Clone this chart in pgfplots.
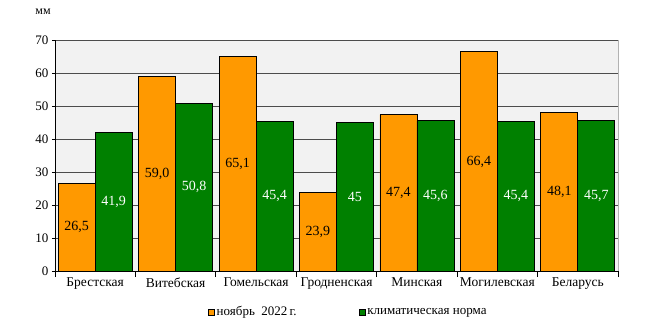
\documentclass[border=0pt]{standalone}
\usepackage{fontspec}
\setmainfont{Liberation Serif}
\usepackage{pgfplots}
\pgfplotsset{compat=1.18}
\definecolor{orng}{RGB}{255,153,0}
\definecolor{grn}{RGB}{0,128,0}
\definecolor{bgc}{RGB}{242,242,242}
\begin{document}
\begin{tikzpicture}
\path[use as bounding box] (-55pt,-56pt) rectangle (594pt,271pt);
\begin{axis}[
  at={(0,0)}, anchor=south west,
  scale only axis, width=563pt, height=231pt,
  xmin=-0.5, xmax=6.5, ymin=0, ymax=70,
  ytick={0,10,...,70},
  xtick={0,...,6},
  xticklabels={Брестская,Витебская,Гомельская,Гродненская,Минская,Могилевская,Беларусь},
  minor xtick={-0.5,0.5,...,6.5},
  axis x line*=bottom, axis y line*=left,
  axis line style={-, black, line width=0.8pt},
  tick align=outside,
  major x tick style={draw=none},
  minor x tick style={black, line width=0.8pt},
  ytick style={black, line width=0.8pt},
  major tick length=3pt, minor tick length=6pt,
  ymajorgrids,
  major y grid style={gray!60!black, line width=0.7pt},
  axis background/.style={fill=bgc, draw=gray!60, line width=0.8pt},
  /pgf/number format/assume math mode=true,
  yticklabel style={font=\fontsize{13}{14}\selectfont},
  xticklabel style={font=\fontsize{13.5}{14}\selectfont},
  legend style={at={(0.521,-0.1775)}, anchor=center, draw=none, fill=none,
    font=\fontsize{13}{14}\selectfont, legend columns=2,
    /tikz/every even column/.append style={column sep=60pt}},
  legend image code/.code={\draw[#1, line width=0.6pt] (0pt,-3pt) rectangle (6pt,3pt);},
  nodes near coords,
  point meta=explicit symbolic,
  visualization depends on={y \as \rawy},
  every node near coord/.append style={anchor=center, font=\fontsize{14}{15}\selectfont,
    shift={(axis direction cs:0,-\rawy/2)}},
]
\addplot[ybar, bar width=0.46, bar shift=-0.23, fill=orng, draw=black, line width=0.8pt,
  every node near coord/.append style={text=black, shift={(axis direction cs:-0.23,0)}}]
  table[meta=lab, row sep=\\] {
  x y lab \\
  0 26.5 26,5 \\
  1 59.0 59,0 \\
  2 65.1 65,1 \\
  3 23.9 23,9 \\
  4 47.4 47,4 \\
  5 66.4 66,4 \\
  6 48.1 48,1 \\
  };
\addlegendentry{ноябрь\ \ 2022\,г.}
\addplot[ybar, bar width=0.46, bar shift=0.23, fill=grn, draw=black, line width=0.8pt,
  every node near coord/.append style={text=white, shift={(axis direction cs:0.23,0)}}]
  table[meta=lab, row sep=\\] {
  x y lab \\
  0 41.9 41,9 \\
  1 50.8 50,8 \\
  2 45.4 45,4 \\
  3 45.0 45 \\
  4 45.6 45,6 \\
  5 45.4 45,4 \\
  6 45.7 45,7 \\
  };
\addlegendentry{климатическая\ норма}
\end{axis}
\node[font=\fontsize{12}{13}\selectfont] at (-12pt,259pt) {мм};
\end{tikzpicture}
\end{document}
